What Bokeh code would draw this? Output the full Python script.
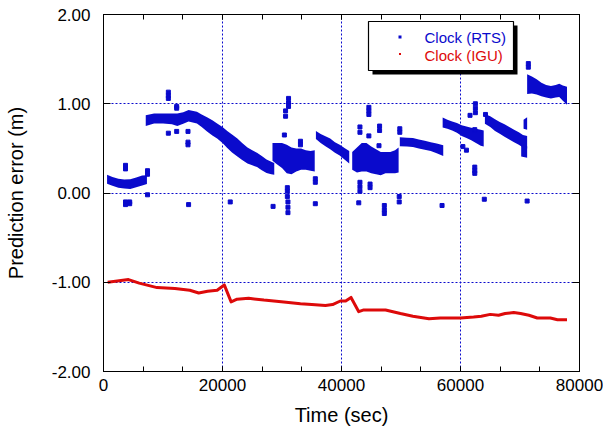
from bokeh.plotting import figure
from bokeh.models import (LinearAxis, SingleIntervalTicker, NumeralTickFormatter,
                          Range1d, BoxAnnotation, Label, CustomJSTickFormatter)
from bokeh.embed import file_html
from bokeh.resources import INLINE

# ---------------- data ----------------
# Clock (IGU) prediction error, metres
igu_time = [700, 2000, 4200, 6000, 9000, 12000, 14500, 16000, 17500, 19100,
            20300, 21450, 22450, 24400, 26950, 30300, 33100, 35000, 37300, 38500,
            39800, 40700, 41600, 42900, 43750, 45500, 47400, 49900, 52000, 54700,
            56600, 58000, 60000, 62200, 63500, 65000, 66400, 67500, 68950, 70100,
            71500, 72900, 75100, 76300, 77900]
igu_err = [-1.00, -0.99, -0.97, -1.01, -1.06, -1.07, -1.09, -1.12, -1.10, -1.09,
           -1.03, -1.22, -1.19, -1.18, -1.20, -1.22, -1.24, -1.25, -1.26, -1.25,
           -1.21, -1.21, -1.17, -1.33, -1.31, -1.31, -1.31, -1.35, -1.38, -1.41,
           -1.40, -1.40, -1.40, -1.39, -1.38, -1.36, -1.37, -1.35, -1.34, -1.35,
           -1.37, -1.40, -1.40, -1.42, -1.42]

# Clock (RTS): dense point cloud, described as band segments (centre, spread)
rts_seg = [1]*8 + [2]*24 + [3]*10 + [4]*8 + [5]*11 + [6]*8 + [7]*10 + [8]*10 + [9]*2 + [10]*2 + [11]*10
rts_time = [600, 1500, 2500, 3500, 4500, 5500, 6500, 7300,
            7100, 8500, 10000, 11500, 12400, 13400, 14300, 15700, 16500, 17400,
            18300, 19100, 20000, 20800, 21600, 22500, 23300, 24200, 25000, 25800,
            26600, 27400, 28200, 28700,
            28400, 29200, 30000, 30800, 31600, 32400, 33200, 34000, 34800, 35500,
            35700, 36500, 37300, 38100, 38900, 39700, 40500, 41300,
            41800, 42600, 43400, 44200, 45000, 45800, 46600, 47400, 48200, 49000, 49600,
            49800, 51000, 52000, 53000, 54000, 55000, 56000, 57100,
            57000, 57800, 58600, 59400, 60200, 61000, 61800, 62600, 63400, 63900,
            64100, 65000, 65800, 66600, 67400, 68200, 69000, 69800, 70500, 71200,
            70200, 71200,
            70600, 71200,
            71200, 72000, 72800, 73600, 74400, 75200, 76000, 76600, 77200, 77900]
rts_mid = [0.155, 0.13, 0.11, 0.10, 0.10, 0.12, 0.14, 0.15,
           0.81, 0.835, 0.835, 0.83, 0.82, 0.84, 0.865, 0.845, 0.81, 0.77,
           0.73, 0.695, 0.65, 0.60, 0.555, 0.51, 0.465, 0.42, 0.395, 0.37,
           0.335, 0.30, 0.28, 0.27,
           0.46, 0.44, 0.42, 0.38, 0.36, 0.37, 0.38, 0.37, 0.36, 0.36,
           0.65, 0.61, 0.58, 0.55, 0.51, 0.48, 0.44, 0.40,
           0.36, 0.37, 0.40, 0.40, 0.37, 0.35, 0.33, 0.34, 0.34, 0.35, 0.37,
           0.575, 0.57, 0.565, 0.55, 0.535, 0.52, 0.50, 0.475,
           0.79, 0.77, 0.75, 0.73, 0.70, 0.68, 0.66, 0.64, 0.62, 0.61,
           0.83, 0.80, 0.76, 0.73, 0.70, 0.67, 0.64, 0.61, 0.58, 0.57,
           0.47, 0.46,
           0.77, 0.78,
           1.22, 1.21, 1.19, 1.16, 1.14, 1.13, 1.14, 1.15, 1.12, 1.09]
rts_spread = [0.08, 0.08, 0.08, 0.08, 0.09, 0.09, 0.09, 0.08,
              0.10, 0.09, 0.09, 0.10, 0.12, 0.11, 0.11, 0.11, 0.12, 0.14,
              0.15, 0.15, 0.16, 0.17, 0.18, 0.18, 0.17, 0.16, 0.15, 0.14,
              0.14, 0.13, 0.12, 0.11,
              0.18, 0.22, 0.26, 0.30, 0.28, 0.24, 0.22, 0.20, 0.20, 0.22,
              0.07, 0.08, 0.09, 0.10, 0.10, 0.10, 0.11, 0.12,
              0.18, 0.26, 0.30, 0.30, 0.28, 0.26, 0.24, 0.22, 0.22, 0.24, 0.26,
              0.08, 0.08, 0.08, 0.08, 0.08, 0.08, 0.09, 0.10,
              0.09, 0.08, 0.08, 0.09, 0.10, 0.11, 0.12, 0.14, 0.16, 0.16,
              0.09, 0.10, 0.11, 0.11, 0.12, 0.12, 0.12, 0.12, 0.12, 0.12,
              0.10, 0.11,
              0.08, 0.12,
              0.20, 0.17, 0.15, 0.13, 0.12, 0.12, 0.12, 0.13, 0.15, 0.18]

# Clock (RTS): isolated points
rts_out_time = [3700, 3700, 3700, 3700, 4400, 4400, 7400, 7400, 7400,
                10900, 10900, 10900, 12300, 12300, 10900, 12300, 14200, 14200, 14200,
                14300, 21300, 28500, 30400, 30600, 30600, 31100, 31100, 31100,
                30900, 30900, 30900, 31000, 31000, 31000, 33100, 33100,
                35600, 35600, 35600,
                43100, 43100, 44600, 44600, 44600, 44600, 46400, 46400, 46300, 49800, 49800,
                43100, 43100, 43100, 44800, 44800, 42900, 47200, 47200, 47200,
                49700, 49700, 56900,
                62500, 62500, 62500, 61600, 62400, 62400, 62400, 62400, 60400, 61000,
                64000, 64200, 71200, 71400, 71400]
rts_out_err = [0.31, 0.27, -0.10, -0.13, -0.10, -0.12, 0.25, 0.21, -0.02,
               1.13, 1.09, 1.06, 0.97, 0.95, 0.67, 0.69, 0.69, 0.57, 0.54,
               -0.13, -0.10, -0.15, 0.65, 0.92, 0.86, 1.06, 1.01, 0.97,
               0.06, 0.02, -0.04, -0.10, -0.16, -0.22, 0.58, 0.54,
               0.16, 0.12, -0.12,
               0.74, 0.68, 0.96, 0.92, 0.88, 0.64, 0.75, 0.70, 0.53, 0.72, 0.68,
               0.12, 0.07, 0.02, 0.10, 0.06, -0.11, -0.14, -0.19, -0.23,
               -0.04, -0.10, -0.14,
               1.00, 0.95, 0.90, 0.87, 0.71, 0.29, 0.25, 0.22, 0.52, 0.48,
               -0.07, 0.88, -0.09, 1.45, 1.41]

series_names = ["Clock (RTS)", "Clock (IGU)"]
x_ticks_major = 20000
y_ticks_major = 1

BLUE = "#0A0ACC"
RED = "#DD0A0A"
FONT = "Liberation Sans"
MARKER_PAD = 0.02   # extra band thickness from the marker size (m)

# ---------------- figure ----------------
p = figure(width=603, height=431, x_range=Range1d(0, 80000), y_range=Range1d(-2, 2),
           output_backend="svg", toolbar_location=None,
           min_border_left=103, min_border_right=24, min_border_top=14, min_border_bottom=60,
           x_axis_label="Time (sec)", y_axis_label="Prediction error (m)")
p.outline_line_color = "black"
p.background_fill_color = "white"
p.border_fill_color = "white"

for ax in p.xaxis:
    ax.ticker = SingleIntervalTicker(interval=x_ticks_major, num_minor_ticks=3)
for ax in p.yaxis:
    ax.ticker = SingleIntervalTicker(interval=y_ticks_major, num_minor_ticks=0)
    ax.formatter = NumeralTickFormatter(format="0.00")

for ax in list(p.xaxis) + list(p.yaxis):
    ax.axis_line_color = "black"
    ax.major_tick_out = 0
    ax.minor_tick_out = 0
    ax.major_label_text_font = FONT
    ax.major_label_text_font_size = "17px"
    ax.major_label_text_color = "black"
    ax.axis_label_text_font = FONT
    ax.axis_label_text_font_size = "20px"
    ax.axis_label_text_font_style = "normal"
    ax.axis_label_text_color = "black"
p.xaxis.major_tick_in = 5
p.xaxis.minor_tick_in = 5
p.xaxis.major_label_standoff = 7
p.xaxis.axis_label_standoff = 10
p.yaxis.major_tick_in = 7
p.yaxis.minor_tick_in = 0
p.yaxis.major_label_standoff = 13
p.yaxis.axis_label_standoff = 22

blank = CustomJSTickFormatter(code="return ''")
top_ax = LinearAxis(ticker=SingleIntervalTicker(interval=x_ticks_major, num_minor_ticks=3),
                    formatter=blank,
                    major_tick_in=5, major_tick_out=0, minor_tick_in=5, minor_tick_out=0,
                    major_label_standoff=0, axis_line_color="black")
p.add_layout(top_ax, "above")
right_ax = LinearAxis(ticker=SingleIntervalTicker(interval=y_ticks_major, num_minor_ticks=0),
                      formatter=blank,
                      major_tick_in=7, major_tick_out=0, minor_tick_in=0, minor_tick_out=0,
                      major_label_standoff=0, axis_line_color="black")
p.add_layout(right_ax, "right")

for g in (p.xgrid, p.ygrid):
    g.grid_line_color = BLUE
    g.grid_line_dash = "2 2"
    g.grid_line_width = 1
p.xgrid.ticker = SingleIntervalTicker(interval=x_ticks_major)
p.ygrid.ticker = SingleIntervalTicker(interval=y_ticks_major)

# ---------------- data marks ----------------
for s in sorted(set(rts_seg)):
    idx = [i for i, v in enumerate(rts_seg) if v == s]
    xs = [rts_time[i] for i in idx]
    lo = [rts_mid[i] - (rts_spread[i] + MARKER_PAD) / 2 for i in idx]
    hi = [rts_mid[i] + (rts_spread[i] + MARKER_PAD) / 2 for i in idx]
    p.varea(x=xs, y1=lo, y2=hi, fill_color=BLUE, fill_alpha=1)

p.scatter(rts_out_time, rts_out_err, marker="square", size=4,
          fill_color=BLUE, line_color=BLUE)

p.line(igu_time, igu_err, line_color=RED, line_width=3, line_join="round")

# ---------------- legend (box with drop shadow, drawn in canvas pixels) ----------------
cu = dict(left_units="canvas", right_units="canvas", top_units="canvas", bottom_units="canvas")
p.add_layout(BoxAnnotation(left=372, right=517, top=25, bottom=74, fill_color="black",
                           fill_alpha=1, line_alpha=0, **cu))
p.add_layout(BoxAnnotation(left=368, right=513, top=21, bottom=70, fill_color="white",
                           fill_alpha=1, line_color="black", line_width=1.2, line_alpha=1, **cu))
p.add_layout(BoxAnnotation(left=398, right=401, top=35, bottom=38, fill_color=BLUE,
                           fill_alpha=1, line_alpha=0, **cu))
p.add_layout(BoxAnnotation(left=398.5, right=400.5, top=52.5, bottom=54.5, fill_color=RED,
                           fill_alpha=1, line_alpha=0, **cu))
for name, col, ty in ((series_names[0], BLUE, 37), (series_names[1], RED, 54.5)):
    p.add_layout(Label(x=424, y=ty, x_units="canvas", y_units="canvas", text=name,
                       text_color=col, text_font=FONT, text_font_size="15px",
                       text_baseline="middle", text_align="left"))

open("out.html", "w").write(file_html(p, INLINE))
